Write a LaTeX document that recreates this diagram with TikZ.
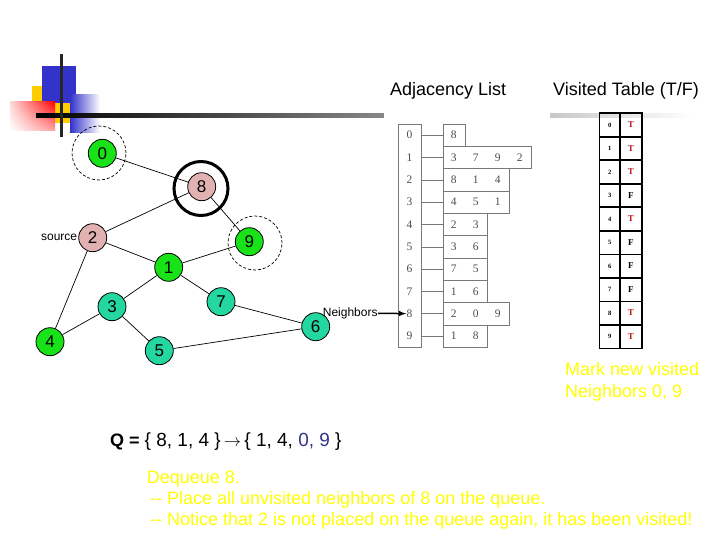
\documentclass[tikz,border=0pt]{standalone}
\usepackage{fontspec}
\setmainfont{Liberation Sans}
\newfontfamily\tabfont{Liberation Serif}
\usetikzlibrary{arrows,positioning,shadings}

\definecolor{inqueue}{RGB}{24,226,24}
\definecolor{done}{RGB}{226,178,178}
\definecolor{unseen}{RGB}{36,214,160}
\definecolor{logoblue}{RGB}{51,51,204}
\definecolor{logoyellow}{RGB}{255,204,0}
\definecolor{note}{RGB}{255,255,0}
\definecolor{qblue}{RGB}{51,51,136}
\definecolor{tred}{RGB}{190,20,30}
\definecolor{listgray}{RGB}{120,120,120}

\begin{document}
\begin{tikzpicture}[x=1pt, y=-1pt,
		vert/.style={circle, draw, line width=0.8pt, minimum size=28pt, inner sep=0pt, font=\fontsize{17}{17}\selectfont},
		inq/.style={vert, fill=inqueue},
		fin/.style={vert, fill=done},
		fresh/.style={vert, fill=unseen},
		link/.style={line width=0.7pt},
		ring/.style={circle, draw, dashed, dash pattern=on 3pt off 2pt, line width=0.7pt, minimum size=54pt, inner sep=0pt},
		idx/.style={minimum width=22.4pt, minimum height=22.3pt, inner sep=0pt, font=\tabfont\fontsize{11.5}{11.5}\selectfont, text=black!70},
		lstbox/.style={draw=listgray, minimum height=22.3pt, inner sep=0pt, anchor=west},
		vcell/.style={inner sep=0pt, font=\tabfont\bfseries\fontsize{6.5}{6.5}\selectfont},
		tcell/.style={inner sep=0pt, font=\tabfont\bfseries\fontsize{9}{9}\selectfont},
		title/.style={anchor=base west, inner sep=0pt, font=\fontsize{18}{18}\selectfont},
		notetext/.style={anchor=base west, inner sep=0pt, text=note, font=\fontsize{18}{18}\selectfont}]
		\useasboundingbox (0,0) rectangle (720,540);
		
		% logo
		\fill[logoyellow] (31.7,86) rectangle (70,123);
		\fill[logoblue] (42.3,66) rectangle (76,103.3);
		\shade[upper right=red, upper left=red!15, lower right=red!35, lower left=white] (10,101.7) rectangle (55,131);
		\shade[left color=logoblue, right color=white] (70,95) rectangle (100,133);
		\shade[left color=black, middle color=black!35, right color=white] (36,114) rectangle (693,118);
		\fill[white] (384,111) rectangle (550,121);
		\draw[line width=3pt, black!85] (61.5,54) -- (61.5,137);
		
		% graph
		\node[inq] (v0) at (102.3,153.3) {0};
		\node[fin] (v8) at (201.7,186.7) {8};
		\node[fin] (v2) at (92.7,237.7) {2};
		\node[inq] (v9) at (249.3,241.7) {9};
		\node[inq] (v1) at (168.7,267.3) {1};
		\node[fresh] (v3) at (112,306.7) {3};
		\node[fresh] (v7) at (221,301.7) {7};
		\node[inq] (v4) at (50,341.7) {4};
		\node[fresh] (v5) at (159.3,350.7) {5};
		\node[fresh] (v6) at (315.7,326.7) {6};
		\foreach \a/\b in {0/8, 8/2, 8/9, 2/1, 1/9, 2/4, 1/3, 1/7, 3/4, 3/5, 7/6, 5/6}
			\draw[link] (v\a) -- (v\b);
		
		\node[ring] (ring0) at (99,153) {};
		\node[ring] (ring9) at (255,243) {};
		\node[circle, draw, line width=3pt, minimum size=54pt, inner sep=0pt] (cur) at (201,188.5) {};
		\node[left=1pt of v2, inner sep=0pt, font=\fontsize{12}{12}\selectfont] (src) {source};
		
		% adjacency list
		\node[title] (adjtitle) at (390,96) {Adjacency List};
		\draw[listgray] (398.3,124) rectangle (420.7,347);
		\foreach \i/\n/\lst in {0/1/{8}, 1/4/{3,7,9,2}, 2/3/{8,1,4}, 3/3/{4,5,1}, 4/2/{2,3},
				5/2/{3,6}, 6/2/{7,5}, 7/2/{1,6}, 8/3/{2,0,9}, 9/2/{1,8}} {
			\node[idx] (idx\i) at (409.5,{135.2+22.3*\i}) {\i};
			\node[lstbox, minimum width=\n*22pt] (lst\i) at (442.7,{135.2+22.3*\i}) {};
			\draw[listgray] (idx\i.east) -- (lst\i.west);
			\foreach \v [count=\k from 0] in \lst
				\node[idx, minimum width=0pt] (a\i-\k) at ({453.7+22*\k},{135.2+22.3*\i}) {\v};
		}
		\node[anchor=west, inner sep=0pt, font=\fontsize{12}{12}\selectfont] (nbr) at (322.7,313.3) {Neighbors};
		\draw[-latex, line width=1.5pt] (nbr.east) -- ([xshift=8pt]idx8.west);
		
		% visited table
		\node[title] (vistitle) at (553,96) {Visited Table (T/F)};
		\foreach \i/\t/\c in {0/T/tred, 1/T/tred, 2/T/tred, 3/F/black, 4/T/tred,
				5/F/black, 6/F/black, 7/F/black, 8/T/tred, 9/T/tred} {
			\node[vcell] (vi\i) at (609.7,{125.05+23.5*\i}) {\i};
			\node[tcell, text=\c] (vt\i) at (630.8,{125.05+23.5*\i}) {\t};
		}
		\draw[line width=1.6pt] (599.3,113.3) rectangle (641.7,348.3);
		\draw[line width=1.6pt] (620,113.3) -- (620,348.3);
		\foreach \i in {1,...,9}
			\draw[line width=1.6pt] (599.3,{113.3+23.5*\i}) -- (641.7,{113.3+23.5*\i});
		
		% notes
		\node[notetext] (mark1) at (565,375.5) {Mark new visited};
		\node[notetext] (mark2) at (565,397) {Neighbors 0, 9};
		\node[title] (queue) at (110,446) {\textbf{Q =} {\fontsize{19}{19}\selectfont\{ 8, 1, 4 \}\,$\rightarrow$\,\{ 1, 4, \textcolor{qblue}{0, 9} \}}};
		\node[notetext] (deq) at (146.7,483) {Dequeue 8.};
		\node[notetext] (step1) at (150,504.7) {-{}- Place all unvisited neighbors of 8 on the queue.};
		\node[notetext] (step2) at (150,525.7) {-{}- Notice that 2 is not placed on the queue again, it has been visited!};
	\end{tikzpicture}
\end{document}
